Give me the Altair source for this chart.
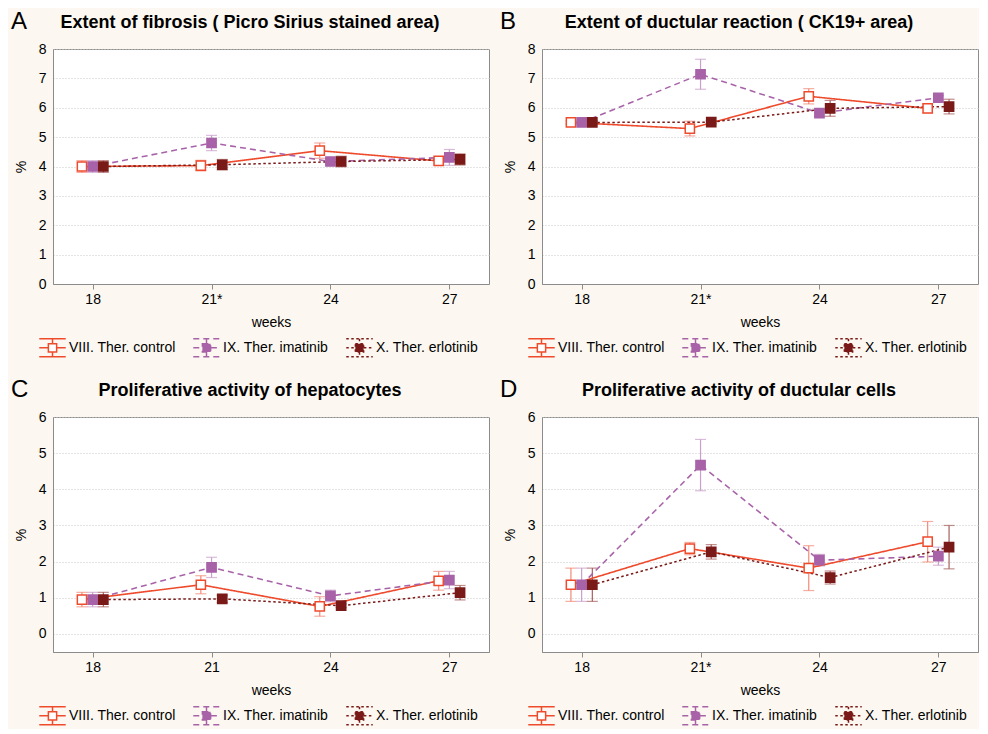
import altair as alt
import pandas as pd

FONT = "Liberation Sans"

weeks = [18, 21, 24, 27]
series = ["VIII. Ther. control", "IX. Ther. imatinib", "X. Ther. erlotinib"]
series_keys = ["ctl", "ima", "erl"]

# Panel A - Extent of fibrosis (mean, +/- error)
a_control = [4.00, 4.03, 4.54, 4.19]
a_control_err = [0.20, 0.18, 0.26, 0.10]
a_imatinib = [4.00, 4.80, 4.17, 4.31]
a_imatinib_err = [0.20, 0.26, 0.07, 0.27]
a_erlotinib = [4.00, 4.06, 4.17, 4.24]
a_erlotinib_err = [0.20, 0.18, 0.18, 0.19]

# Panel B - Extent of ductular reaction
b_control = [5.50, 5.29, 6.39, 5.98]
b_control_err = [0.05, 0.25, 0.26, 0.15]
b_imatinib = [5.50, 7.14, 5.82, 6.34]
b_imatinib_err = [0.05, 0.51, 0.12, 0.07]
b_erlotinib = [5.50, 5.51, 5.98, 6.04]
b_erlotinib_err = [0.05, 0.05, 0.27, 0.25]

# Panel C - Proliferative activity of hepatocytes
c_control = [0.95, 1.36, 0.76, 1.47]
c_control_err = [0.20, 0.25, 0.27, 0.26]
c_imatinib = [0.95, 1.84, 1.05, 1.49]
c_imatinib_err = [0.20, 0.28, 0.16, 0.24]
c_erlotinib = [0.95, 0.97, 0.78, 1.14]
c_erlotinib_err = [0.20, 0.10, 0.05, 0.20]

# Panel D - Proliferative activity of ductular cells
d_control = [1.36, 2.36, 1.82, 2.55]
d_control_err = [0.46, 0.17, 0.62, 0.56]
d_imatinib = [1.36, 4.67, 2.04, 2.15]
d_imatinib_err = [0.46, 0.71, 0.16, 0.25]
d_erlotinib = [1.36, 2.27, 1.56, 2.40]
d_erlotinib_err = [0.46, 0.20, 0.18, 0.60]

OFFSETS = [-0.27, 0.0, 0.27]
LINE_COLORS = ["#EE4A2C", "#A862A8", "#7A1A18"]
FILL_COLORS = ["#FFFFFF", "#A862A8", "#7A1A18"]
ERR_COLORS = ["#F28A78", "#C9A0CB", "#A85E5E"]
DASHES = [[1, 0], [6, 4], [2.5, 2.5]]
WIDTHS = [1.6, 1.5, 2.6]

W, H = 436, 235
# legend glyph: line + error bar with caps + square marker (size 529 -> unit = 11.5px)
LEG_PATH = ("M-1.15,0H-0.38M0.38,0H1.15M0,-0.78V-0.38M0,0.38V0.78"
            "M-1.15,-0.78H1.15M-1.15,0.78H1.15M-0.36,-0.36H0.36V0.36H-0.36Z")


def build(means, errs):
    rows = []
    for s, k, off, m, e in zip(series, series_keys, OFFSETS, means, errs):
        for w, mv, ev in zip(weeks, m, e):
            rows.append(dict(series=s, skey=k, week=w, xpos=w + off, mean=mv,
                             lo=mv - ev, hi=mv + ev))
    return pd.DataFrame(rows)


def panel(letter, title, means, errs, ydom, yvals, star):
    df = build(means, errs)
    legend = alt.Legend(title=None, orient="none", direction="horizontal",
                        legendX=-13, legendY=H + 51, symbolType=LEG_PATH,
                        symbolSize=529, symbolStrokeWidth=1.5,
                        labelFont=FONT, labelFontSize=14, labelColor="black",
                        labelOffset=4, columnPadding=14)
    xaxis = alt.Axis(values=weeks, title="weeks", grid=False, ticks=True,
                     tickSize=5, labelPadding=3, titlePadding=9,
                     labelExpr=("datum.value == 21 ? '21*' : datum.label") if star else "datum.label")
    xscale = alt.Scale(domain=[17, 28], nice=False, zero=False)
    yscale = alt.Scale(domain=ydom, nice=False, zero=False)
    yaxis = alt.Axis(values=yvals, title="%", grid=True, ticks=False, labelPadding=7,
                     titlePadding=10)

    def X():
        return alt.X("xpos:Q", scale=xscale, axis=xaxis)

    def Y(f):
        return alt.Y(f, scale=yscale, axis=yaxis)

    base = alt.Chart(df)
    errc = alt.Color("skey:N", scale=alt.Scale(domain=series_keys, range=ERR_COLORS), legend=None)
    rule = base.mark_rule(strokeWidth=1.2).encode(
        x=X(), y=Y("lo:Q"), y2="hi:Q", color=errc)
    cap_lo = base.mark_tick(orient="horizontal", size=11, thickness=1.2).encode(
        x=X(), y=Y("lo:Q"), color=errc)
    cap_hi = base.mark_tick(orient="horizontal", size=11, thickness=1.2).encode(
        x=X(), y=Y("hi:Q"), color=errc)
    stroke = alt.Stroke("series:N", scale=alt.Scale(domain=series, range=LINE_COLORS), legend=legend)
    line = base.mark_line().encode(
        x=X(), y=Y("mean:Q"), stroke=stroke,
        strokeDash=alt.StrokeDash("series:N", scale=alt.Scale(domain=series, range=DASHES), legend=legend),
        strokeWidth=alt.StrokeWidth("skey:N", scale=alt.Scale(domain=series_keys, range=WIDTHS), legend=None))
    pts = base.mark_point(shape="square", filled=True, size=85, strokeWidth=1.5, opacity=1).encode(
        x=X(), y=Y("mean:Q"), stroke=stroke,
        fill=alt.Fill("series:N", scale=alt.Scale(domain=series, range=FILL_COLORS), legend=legend))
    lab = alt.Chart(pd.DataFrame({"letter": [letter]})).mark_text(
        align="left", baseline="alphabetic", fontSize=24, font=FONT, color="black").encode(
        text="letter:N", x=alt.value(-42), y=alt.value(-20))
    return alt.layer(rule, cap_lo, cap_hi, line, pts, lab).properties(
        width=W, height=H,
        title=alt.TitleParams(text=title, font=FONT, fontSize=18, fontWeight="bold",
                              anchor="middle", frame="bounds", offset=-22, color="black"))


pA = panel("A", "Extent of fibrosis  ( Picro Sirius stained area)",
           [a_control, a_imatinib, a_erlotinib],
           [a_control_err, a_imatinib_err, a_erlotinib_err], [0, 8], list(range(0, 9)), True)
pB = panel("B", "Extent of ductular reaction  ( CK19+ area)",
           [b_control, b_imatinib, b_erlotinib],
           [b_control_err, b_imatinib_err, b_erlotinib_err], [0, 8], list(range(0, 9)), True)
pC = panel("C", "Proliferative activity of hepatocytes",
           [c_control, c_imatinib, c_erlotinib],
           [c_control_err, c_imatinib_err, c_erlotinib_err], [-0.5, 6], list(range(0, 7)), False)
pD = panel("D", "Proliferative activity of ductular cells",
           [d_control, d_imatinib, d_erlotinib],
           [d_control_err, d_imatinib_err, d_erlotinib_err], [-0.5, 6], list(range(0, 7)), True)

IND = dict(color="independent", stroke="independent", fill="independent",
           strokeDash="independent", strokeWidth="independent")

row1 = alt.hconcat(pA, pB, spacing=9).resolve_scale(**IND)
row2 = alt.hconcat(pC, pD, spacing=9).resolve_scale(**IND)

chart = alt.vconcat(row1, row2, spacing=16).resolve_scale(**IND).properties(
    background="#FCF8F1",
    padding={"left": 2, "top": 1, "right": 0, "bottom": 0},
).configure_view(
    fill="white", stroke="#8C8C8C", strokeWidth=1
).configure_axis(
    labelFont=FONT, labelFontSize=14, labelColor="black",
    titleFont=FONT, titleFontSize=14, titleFontWeight="normal", titleColor="black",
    domainColor="#8C8C8C", tickColor="#8C8C8C",
    gridColor="#C8C8C8", gridDash=[1, 2], gridWidth=1,
)

chart.save("out.html", embed_options={"renderer": "svg", "actions": False})
